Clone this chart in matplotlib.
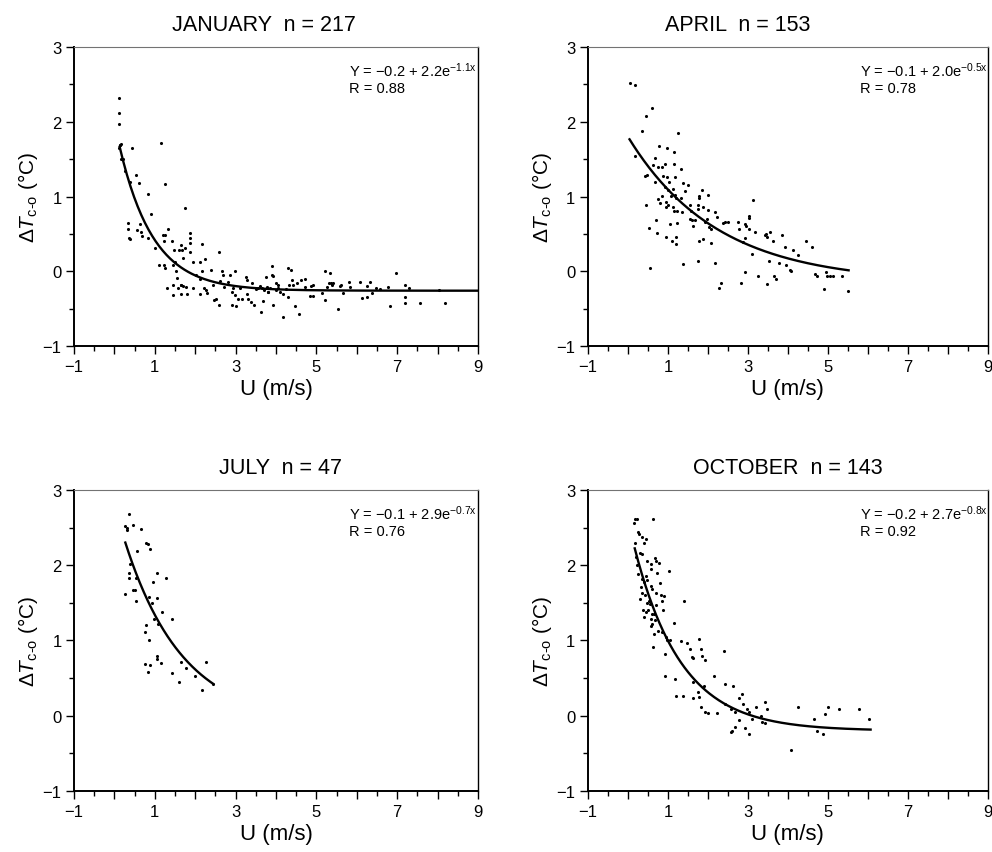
import numpy as np
from matplotlib import pyplot as plt
from matplotlib.ticker import MultipleLocator, FixedFormatter, FixedLocator

plt.rcParams['font.family'] = ['Liberation Sans', 'DejaVu Sans']
plt.rcParams['mathtext.fontset'] = 'custom'
plt.rcParams['mathtext.rm'] = 'Liberation Sans'
plt.rcParams['mathtext.it'] = 'Liberation Sans:italic'

# January, n = 217
jan_u = [0.11, 0.11, 0.11, 0.13, 0.15, 0.17, 0.11, 0.16, 0.21, 0.25,
         0.39, 0.44, 0.53, 0.61, 0.82, 0.91, 1.15, 1.24, 1.75, 0.34,
         0.34, 0.36, 0.38, 0.56, 0.63, 0.65, 0.69, 0.84, 1.00, 1.20,
         1.22, 1.25, 1.33, 1.10, 1.22, 1.24, 1.42, 1.44, 1.47, 1.49,
         1.52, 1.54, 1.59, 1.65, 1.68, 1.71, 1.74, 1.86, 1.86, 1.86,
         1.88, 1.95, 2.03, 2.11, 2.17, 2.23, 2.18, 2.11, 1.29, 1.45,
         1.44, 1.58, 1.64, 1.66, 1.71, 1.78, 1.80, 1.64, 1.95, 2.13,
         2.21, 2.26, 2.28, 2.40, 2.44, 2.46, 2.52, 2.59, 2.59, 2.61,
         2.66, 2.69, 2.71, 2.81, 2.87, 2.90, 2.90, 2.94, 2.98, 2.98,
         3.02, 3.07, 3.10, 3.15, 3.25, 3.27, 3.27, 3.31, 3.37, 3.41,
         3.45, 3.51, 3.64, 3.66, 3.76, 3.78, 3.80, 3.89, 3.91, 3.93,
         4.01, 4.05, 4.17, 4.30, 4.32,
         3.69, 3.81, 3.92, 4.06, 4.18, 4.29, 4.36, 4.39, 4.43, 4.46,
         4.53, 4.58, 4.62, 4.71, 4.72, 4.83, 4.86, 4.91, 4.91, 5.15,
         5.21, 5.20, 5.27, 5.30, 5.34, 5.35, 5.38, 5.42, 5.54, 5.58,
         5.62, 5.67, 5.81, 5.83, 6.09, 6.12, 6.24, 6.26, 6.33, 6.37,
         6.48, 6.57, 6.76, 6.81, 6.97, 7.19, 7.19, 7.19, 7.28, 7.56,
         8.03, 8.18, 3.55, 3.60, 3.70, 3.85, 4.00, 4.10, 4.25]
jan_dt = [2.32, 2.12, 1.97, 1.69, 1.69, 1.70, 1.65, 1.50, 1.50, 1.34,
          1.20, 1.65, 1.29, 1.18, 1.03, 0.77, 1.72, 1.17, 0.84, 0.64,
          0.57, 0.44, 0.43, 0.55, 0.63, 0.52, 0.47, 0.45, 0.31, 0.49,
          0.41, 0.48, 0.56, 0.08, 0.08, 0.04, 0.41, 0.08, 0.29, 0.13,
          0.00, -0.09, 0.29, 0.35, 0.29, 0.18, 0.31, 0.51, 0.44, 0.38,
          0.26, 0.13, -0.05, 0.13, 0.36, 0.17, 0.00, -0.10, -0.23, -0.19,
          -0.32, -0.23, -0.18, -0.19, -0.20, -0.21, -0.31, -0.30, -0.22, -0.30,
          -0.22, -0.25, -0.29, 0.02, -0.19, -0.39, -0.37, -0.45, 0.26, -0.13,
          0.01, -0.05, -0.21, -0.14, -0.05, -0.28, -0.45, -0.23, 0.01, -0.32,
          -0.47, -0.37, -0.22, -0.37, -0.08, -0.12, -0.31, -0.37, -0.41, -0.16,
          -0.45, -0.24, -0.55, -0.22, -0.08, -0.21, -0.28, 0.07, -0.05, -0.45,
          -0.16, -0.22, -0.61, 0.04, -0.19,
          -0.40, -0.28, -0.07, -0.19, -0.31, -0.34, 0.02, -0.12, -0.19, -0.46,
          -0.16, -0.57, -0.12, -0.11, -0.21, -0.33, -0.20, -0.33, -0.18, -0.29,
          0.00, -0.39, -0.21, -0.16, -0.03, -0.16, -0.19, -0.16, -0.51, -0.20,
          -0.18, -0.29, -0.15, -0.21, -0.14, -0.36, -0.20, -0.35, -0.14, -0.29,
          -0.22, -0.24, -0.21, -0.46, -0.03, -0.19, -0.35, -0.43, -0.23, -0.42,
          -0.25, -0.43, -0.22, -0.20, -0.25, -0.22, -0.25, -0.28, -0.24]

# April, n = 153
apr_u = [0.04, 0.17, 0.61, 0.46, 0.34, 1.25, 0.17, 0.78, 0.98, 1.16,
         0.68, 0.63, 0.75, 0.86, 0.92, 1.15, 1.33, 0.42, 0.48, 0.88,
         0.98, 1.17, 0.67, 1.02, 0.92, 1.00, 1.38, 1.50, 1.43, 1.13,
         1.86, 1.79, 1.79, 2.01, 0.75, 0.86, 1.08, 1.17, 1.21, 1.33,
         0.46, 0.81, 0.94, 1.00, 1.13, 1.15, 1.23, 1.36, 0.94, 1.54,
         1.58, 1.75, 1.75, 1.88, 2.00, 2.19, 2.23, 1.54, 1.60, 1.67,
         1.63, 1.94, 1.98, 2.04, 2.08, 0.71, 0.53, 0.73, 1.04, 1.23,
         0.96, 1.11, 1.21, 1.21, 1.77, 1.88, 2.09, 1.38, 1.75, 2.17,
         0.54, 2.33, 2.29, 2.39, 2.43, 2.50, 2.75, 2.77, 2.92, 2.96,
         3.03, 3.04, 3.14, 3.04, 3.17, 2.88, 2.94, 3.11, 2.94, 2.83,
         3.25, 3.44, 3.46, 3.48, 3.56, 3.63, 3.85, 3.92, 3.53, 3.79,
         3.48, 3.65, 3.71, 3.96, 4.06, 4.13, 4.25,
         4.08, 4.46, 4.61, 4.67, 4.72, 4.90, 4.96, 4.99, 5.05, 5.12,
         5.36, 5.50]
apr_dt = [2.52, 2.49, 2.19, 2.08, 1.88, 1.85, 1.54, 1.67, 1.65, 1.60,
          1.51, 1.42, 1.39, 1.39, 1.43, 1.44, 1.37, 1.28, 1.29, 1.28,
          1.26, 1.26, 1.19, 1.20, 1.13, 1.09, 1.18, 1.16, 1.08, 1.10,
          1.09, 1.01, 0.98, 1.02, 0.97, 1.01, 1.01, 1.02, 0.98, 0.98,
          0.89, 0.91, 0.92, 0.88, 0.86, 0.81, 0.80, 0.79, 0.86, 0.88,
          0.80, 0.89, 0.83, 0.86, 0.82, 0.79, 0.72, 0.70, 0.68, 0.68,
          0.61, 0.66, 0.70, 0.59, 0.56, 0.69, 0.58, 0.51, 0.63, 0.65,
          0.46, 0.41, 0.46, 0.37, 0.40, 0.43, 0.38, 0.10, 0.14, 0.11,
          0.05, -0.16, -0.22, 0.65, 0.66, 0.66, 0.66, 0.56, 0.63, 0.61,
          0.74, 0.71, 0.96, 0.57, 0.52, 0.39, 0.44, 0.23, -0.01, -0.16,
          -0.06, 0.48, 0.50, 0.46, 0.53, 0.41, 0.49, 0.33, 0.14, 0.11,
          -0.17, -0.06, -0.10, 0.08, 0.02, 0.28, 0.22,
          0.01, 0.40, 0.33, -0.04, -0.06, -0.24, -0.01, -0.07, -0.07, -0.07,
          -0.07, -0.27]

# July, n = 47
jul_u = [0.36, 0.26, 0.30, 0.32, 0.46, 0.65, 0.79, 0.83, 0.89, 0.56,
         0.38, 0.36, 0.36, 0.54, 1.06, 1.27, 0.96, 0.26, 0.46, 0.51,
         0.54, 0.85, 1.06, 0.92, 1.17, 0.97, 1.08, 1.42, 0.79, 0.76,
         0.86, 1.06, 1.06, 1.16, 0.76, 0.89, 0.84, 1.42, 1.64, 1.78,
         1.60, 1.99, 2.26, 2.18, 2.44]
jul_dt = [2.68, 2.52, 2.50, 2.47, 2.53, 2.48, 2.30, 2.28, 2.21, 2.19,
          2.02, 1.90, 1.83, 1.83, 1.90, 1.83, 1.78, 1.62, 1.67, 1.67,
          1.53, 1.58, 1.56, 1.50, 1.38, 1.29, 1.22, 1.28, 1.21, 1.11,
          1.01, 0.79, 0.76, 0.70, 0.69, 0.67, 0.58, 0.57, 0.71, 0.63,
          0.45, 0.53, 0.71, 0.34, 0.42]

# October, n = 143
oct_u = [0.17, 0.22, 0.15, 0.63, 0.25, 0.27, 0.36, 0.44, 0.40, 0.17,
         0.30, 0.34, 0.19, 0.22, 0.48, 0.57, 0.67, 0.71, 0.77, 0.58,
         0.73, 1.03, 0.25, 0.36, 0.44, 0.48, 0.40, 0.57, 0.61, 0.79,
         0.32, 0.36, 0.42, 0.69, 0.82, 0.90, 0.30, 0.48, 0.54, 0.53,
         0.69, 0.86, 0.88, 0.37, 0.44, 0.51, 0.61, 0.65, 0.40, 0.57,
         0.67, 0.59, 0.58, 0.75, 0.86, 0.94, 0.97, 1.05, 0.65, 1.15,
         1.40, 0.63, 0.92, 1.32, 1.47, 1.55, 1.78, 1.82, 1.86, 1.92,
         1.61, 1.63, 2.40, 2.15, 0.92, 1.17, 1.63, 1.90, 1.19, 1.38,
         1.63, 1.75, 1.78, 2.44, 2.63, 2.42, 1.84, 1.94, 2.00, 2.22,
         2.57, 2.67, 2.85, 2.78, 2.88, 2.98, 3.03, 3.21, 2.78, 3.11,
         3.44, 3.47, 3.36, 3.44, 3.32, 2.67, 2.61, 2.58, 2.94, 3.03,
         4.08, 4.25, 4.65, 4.73, 4.88, 4.93, 5.01, 5.28, 5.79, 6.03]
oct_dt = [2.61, 2.62, 2.56, 2.61, 2.44, 2.41, 2.38, 2.35, 2.29, 2.29,
          2.16, 2.15, 2.11, 2.00, 2.06, 2.02, 2.10, 2.06, 2.03, 1.95,
          1.90, 1.92, 1.88, 1.81, 1.86, 1.80, 1.77, 1.72, 1.69, 1.76,
          1.71, 1.63, 1.61, 1.63, 1.61, 1.59, 1.55, 1.50, 1.48, 1.52,
          1.47, 1.53, 1.41, 1.40, 1.38, 1.40, 1.35, 1.35, 1.31, 1.28,
          1.27, 1.22, 1.19, 1.12, 1.11, 1.04, 1.01, 1.01, 1.09, 1.23,
          1.52, 0.91, 0.82, 0.99, 0.97, 0.89, 1.02, 0.88, 0.80, 0.74,
          0.78, 0.77, 0.86, 0.53, 0.53, 0.49, 0.45, 0.39, 0.26, 0.26,
          0.24, 0.32, 0.25, 0.42, 0.40, 0.16, 0.11, 0.05, 0.04, 0.03,
          0.09, 0.05, 0.29, 0.24, 0.15, 0.09, 0.05, 0.11, -0.06, -0.04,
          0.18, 0.09, -0.08, -0.10, 0.00, -0.15, -0.20, -0.22, -0.16, -0.24,
          -0.46, 0.11, -0.04, -0.20, -0.24, 0.02, 0.12, 0.09, 0.09, -0.04]

titles = ['JANUARY  n = 217', 'APRIL  n = 153', 'JULY  n = 47', 'OCTOBER  n = 143']
equations = [r'Y = $-$0.2 + 2.2e$^{\mathregular{-1.1x}}$',
             r'Y = $-$0.1 + 2.0e$^{\mathregular{-0.5x}}$',
             r'Y = $-$0.1 + 2.9e$^{\mathregular{-0.7x}}$',
             r'Y = $-$0.2 + 2.7e$^{\mathregular{-0.8x}}$']
r_values = ['R = 0.88', 'R = 0.78', 'R = 0.76', 'R = 0.92']

# fitted curve as traced on the figure: a + b*exp(-c*U), drawn from u_start to u_end
fit_a = [-0.26, -0.15, -0.10, -0.20]
fit_b = [2.25, 1.95, 2.90, 2.80]
fit_c = [1.20, 0.45, 0.70, 0.85]
fit_start = [0.13, 0.04, 0.27, 0.17]
fit_end = [9.0, 5.52, 2.44, 6.07]

u_data = [jan_u, apr_u, jul_u, oct_u]
dt_data = [jan_dt, apr_dt, jul_dt, oct_dt]

fig = plt.figure(figsize=(9.92, 8.53), dpi=100)
positions = [[0.0746, 0.5932, 0.4073, 0.3505],
             [0.5927, 0.5932, 0.4030, 0.3505],
             [0.0746, 0.0715, 0.4073, 0.3530],
             [0.5927, 0.0715, 0.4030, 0.3530]]
# titles in the original are not all centred over their panel
title_x = [0.47, 0.375, 0.51, 0.5]

for i in range(4):
    ax = fig.add_axes(positions[i])
    ax.scatter(u_data[i], dt_data[i], s=5, color='black', linewidths=0, zorder=3)
    xs = np.linspace(fit_start[i], fit_end[i], 200)
    ax.plot(xs, fit_a[i] + fit_b[i] * np.exp(-fit_c[i] * xs), color='black', lw=1.7, zorder=2)

    ax.set_xlim(-1, 9)
    ax.set_ylim(-1, 3)
    ax.xaxis.set_major_locator(FixedLocator(list(range(-1, 10))))
    ax.xaxis.set_major_formatter(FixedFormatter(['\u22121', '', '1', '', '3', '', '5', '', '7', '', '9']))
    ax.xaxis.set_minor_locator(MultipleLocator(0.5))
    ax.yaxis.set_major_locator(FixedLocator([-1, 0, 1, 2, 3]))
    ax.yaxis.set_major_formatter(FixedFormatter(['\u22121', '0', '1', '2', '3']))
    ax.yaxis.set_minor_locator(MultipleLocator(0.5))
    ax.tick_params(which='major', direction='out', length=6, width=1.0, labelsize=12, pad=3)
    ax.tick_params(which='minor', direction='out', length=3.5, width=1.0)

    for side in ['left', 'bottom']:
        ax.spines[side].set_linewidth(1.4)
    ax.spines['top'].set_linewidth(0.8)
    ax.spines['top'].set_color('0.45')
    ax.spines['right'].set_linewidth(1.0)

    ax.set_title(titles[i], fontsize=15.5, pad=12, x=title_x[i])
    ax.set_xlabel('U (m/s)', fontsize=16, labelpad=3)
    ax.set_ylabel('\u0394$\\mathit{T}_{\\mathregular{c\u2010o}}$ (°C)', fontsize=15, labelpad=2)

    ax.text(0.68, 0.955, equations[i] + '\n' + r_values[i], transform=ax.transAxes,
            fontsize=10.5, va='top', ha='left', linespacing=1.15)

fig.savefig('out.png', dpi=100)
